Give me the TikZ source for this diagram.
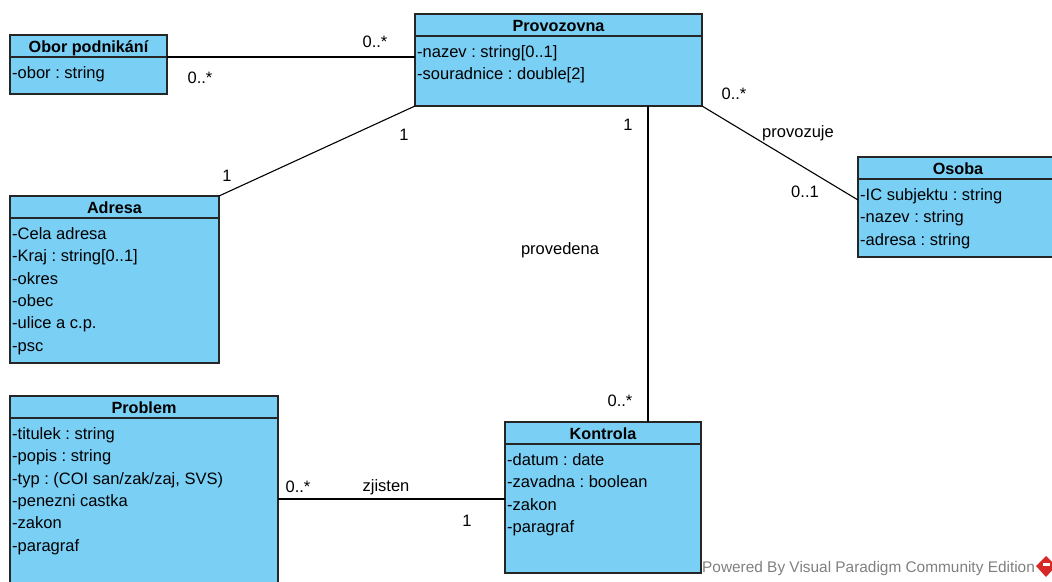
\documentclass[tikz,border=0pt]{standalone}
\usepackage{fontspec}
\setmainfont{Liberation Sans}
\usetikzlibrary{calc}
\definecolor{classfill}{RGB}{122,207,245}
\definecolor{markgray}{RGB}{128,128,128}
\definecolor{logored}{RGB}{215,40,40}
\frenchspacing

\tikzset{
  classbox/.style={draw=black!85, line width=1.1pt, fill=classfill, anchor=north west,
                   inner sep=0pt, outer sep=0pt, rectangle},
  classline/.style={draw=black!85, line width=1.1pt},
  titletext/.style={font=\fontsize{16.2}{19}\selectfont\bfseries, anchor=base, inner sep=0pt},
  attrtext/.style={font=\fontsize{16.5}{19}\selectfont, anchor=base west, inner sep=0pt},
  assoc/.style={draw=black, line width=1.1pt},
  mult/.style={font=\fontsize{16.5}{19}\selectfont, inner sep=0pt},
}

% y grows downwards: offsets below a point are positive
% #1 name, #2 x, #3 y, #4 width, #5 height, #6 title, #7 attributes
\newcommand{\umlclass}[7]{%
  \node[classbox, minimum width=#4pt, minimum height=#5pt] (#1) at (#2,#3) {};
  \draw[classline] ($(#1.north west)+(0,22)$) -- ($(#1.north east)+(0,22)$);
  \node[titletext] (#1-title) at ($(#1.north)+(0,17.5)$) {#6};
  \foreach \a [count=\i] in {#7} {
    \node[attrtext] (#1-a\i) at ($(#1.north west)+(2,{43.2+22.4*(\i-1)})$) {\a};
  }
}

\begin{document}
\begin{tikzpicture}[x=1pt, y=-1pt]
  \useasboundingbox (0,0) rectangle (1052,581);
  \begin{scope}
  \clip (0,0) rectangle (1052,581);

  % classes
  \umlclass{obor}{10}{35}{157}{59}{Obor podnikání}{{-obor : string}}
  \umlclass{prov}{415}{14}{287}{92}{Provozovna}{{-nazev : string[0..1]},{-souradnice : double[2]}}
  \umlclass{osoba}{858}{157}{200}{100}{Osoba}{{-IC subjektu : string},{-nazev : string},{-adresa : string}}
  \umlclass{adresa}{10}{196}{209}{167}{Adresa}{{-Cela adresa},{-Kraj : string[0..1]},{-okres},{-obec},{-ulice a c.p.},{-psc}}
  \umlclass{problem}{10}{396}{268}{200}{Problem}{{-titulek : string},{-popis : string},{-typ : (COI san/zak/zaj, SVS)},{-penezni castka},{-zakon},{-paragraf}}
  \umlclass{kontrola}{505}{422}{196}{151}{Kontrola}{{-datum : date},{-zavadna : boolean},{-zakon},{-paragraf}}

  % associations
  \coordinate (oborend) at ($(obor.north east)+(0,22)$);
  \draw[assoc] (oborend) -- (oborend -| prov.west);
  \draw[assoc] (prov.south west) -- (adresa.north east);
  \coordinate (provdown) at ($(prov.south west)+(233,0)$);
  \draw[assoc] (provdown) -- (provdown |- kontrola.north);
  \coordinate (osobain) at ($(osoba.north west)+(0,43)$);
  \draw[assoc] (prov.south east) -- (osobain);
  \coordinate (probend) at ($(problem.north east)+(0,103)$);
  \draw[assoc] (probend) -- (probend -| kontrola.west);

  % multiplicities and association names
  \node[mult] (m1) at (375,42) {0..*};
  \node[mult] (m2) at (200,78) {0..*};
  \node[mult] (m3) at (404,135) {1};
  \node[mult] (m4) at (227,176) {1};
  \node[mult] (m5) at (628,125) {1};
  \node[mult] (m6) at (620,401) {0..*};
  \node[mult] (n1) at (560,250) {provedena};
  \node[mult] (m7) at (734,94) {0..*};
  \node[mult] (n2) at (798,133) {provozuje};
  \node[mult] (m8) at (805,192) {0..1};
  \node[mult] (m9) at (298,487) {0..*};
  \node[mult] (n3) at (386,487) {zjisten};
  \node[mult] (m10) at (467,521) {1};

  % footer
  \node[font=\fontsize{15.4}{18}\selectfont, text=markgray, anchor=base west, inner sep=0pt]
    (footer) at (702,572) {Powered By Visual Paradigm Community Edition};
  \fill[logored] (1046,556) -- (1056,566) -- (1046,577) -- (1036,566) -- cycle;
  \fill[white] (1043,563) rectangle (1050,566);
  \end{scope}
\end{tikzpicture}
\end{document}
